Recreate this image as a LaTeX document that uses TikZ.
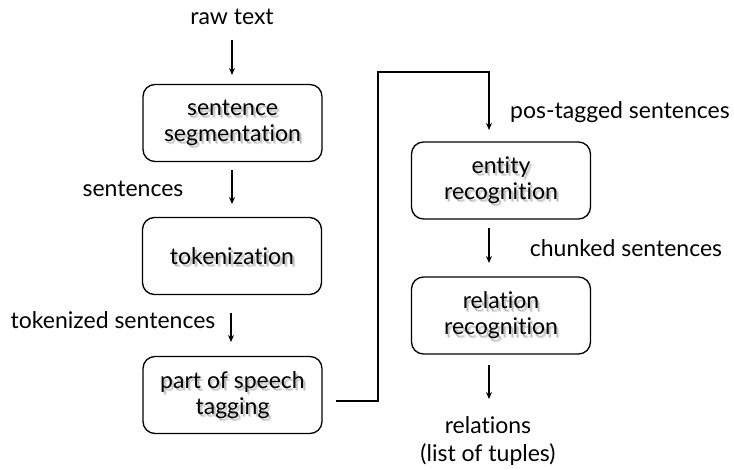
\documentclass[tikz,border=0pt]{standalone}
\usepackage{fontspec}
\setmainfont[Ligatures={NoCommon,NoRare,NoContextual}]{Lato}
\usetikzlibrary{arrows.meta}
\tikzset{
  stagebox/.style={draw=black, line width=1.3pt, rounded corners=12pt,
    minimum width=179pt, minimum height=77pt, align=center, inner sep=0pt,
    font=\fontsize{23}{26}\selectfont, text=black},
  shadowtext/.style={align=center, inner sep=0pt, text=black, opacity=0.14,
    font=\fontsize{23}{26}\selectfont},
  lbl/.style={align=center, inner sep=0pt, font=\fontsize{23}{28}\selectfont},
  flow/.style={line width=1.3pt, -{Stealth[length=7pt,width=6pt]}},
}
\newcommand\stagenode[3]{%
  \node[shadowtext] at ([xshift=1.6pt,yshift=-2.2pt]#2) {#3};
  \node[shadowtext] at ([xshift=2.6pt,yshift=-3.2pt]#2) {#3};
  \node[stagebox] (#1) at (#2) {#3};
}
\begin{document}
\begin{tikzpicture}[x=1pt,y=-1pt]
\useasboundingbox (0,0) rectangle (734,469);
% stages
\stagenode{seg}{232.5,123}{sentence\\segmentation}
\stagenode{tok}{232,256}{tokenization}
\stagenode{pos}{232.5,395}{part of speech\\tagging}
\stagenode{ent}{501,180.5}{entity\\recognition}
\stagenode{rel}{501,315.5}{relation\\recognition}
% labels
\node[lbl] (raw) at (232,17) {raw text};
\node[lbl] (lsent) at (133,189) {sentences};
\node[lbl] (ltok) at (113,320) {tokenized sentences};
\node[lbl] (lpos) at (620,112) {pos-tagged sentences};
\node[lbl] (lchunk) at (626,248) {chunked sentences};
\node[lbl] (lrel) at (488,441) {relations\\(list of tuples)};
% arrow end points
\coordinate (a0s) at (232,40);  \coordinate (a0e) at (232,75);
\coordinate (a1s) at (232,170); \coordinate (a1e) at (232,204);
\coordinate (a2s) at (231,313); \coordinate (a2e) at (231,342);
\coordinate (a3s) at (489,228); \coordinate (a3e) at (489,263);
\coordinate (a4s) at (489,365); \coordinate (a4e) at (489,399);
\coordinate (e0) at (336,401);
\coordinate (e1) at (378,401);
\coordinate (e2) at (378,72);
\coordinate (e3) at (489,72);
\coordinate (e4) at (489,130);
% connectors
\draw[flow] (a0s) -- (a0e);
\draw[flow] (a1s) -- (a1e);
\draw[flow] (a2s) -- (a2e);
\draw[flow] (a3s) -- (a3e);
\draw[flow] (a4s) -- (a4e);
\draw[flow] (e0) -- (e1) -- (e2) -- (e3) -- (e4);
\end{tikzpicture}
\end{document}
